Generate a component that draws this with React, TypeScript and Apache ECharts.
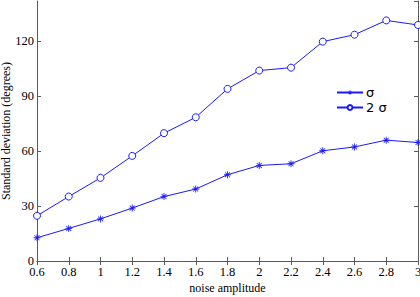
import React, { useEffect, useRef } from "react";
import * as echarts from "echarts";

const noiseAmplitude = [0.6, 0.8, 1.0, 1.2, 1.4, 1.6, 1.8, 2.0, 2.2, 2.4, 2.6, 2.8, 3.0];
const sigma = [12.7, 17.8, 23.0, 28.9, 35.2, 39.3, 47.1, 52.2, 53.1, 60.2, 62.3, 66.0, 64.7];
const twoSigma = [24.7, 35.2, 45.4, 57.4, 69.8, 78.5, 94.0, 104.0, 105.6, 119.8, 123.6, 131.4, 128.9];
const seriesNames = ["σ", "2 σ"];

const asterisk =
  "path://M0 4.4H10V5.6H0Z M4.4 0H5.6V10H4.4Z M1.1 1.9L1.9 1.1L8.9 8.1L8.1 8.9Z M8.1 1.1L8.9 1.9L1.9 8.9L1.1 8.1Z";

export default function App() {
  const ref = useRef<HTMLDivElement>(null);
  useEffect(() => {
    if (!ref.current) return;
    const chart = echarts.init(ref.current, undefined, { renderer: "svg" });
    const font = "'Times New Roman', 'Liberation Serif', 'DejaVu Serif', serif";
    const axisColor = "#5a5a5a";
    const blue = "#1a1aff";
    const baseX = {
      type: "value" as const,
      min: 0.6,
      max: 3,
      interval: 0.2,
      splitLine: { show: false },
      axisLine: { lineStyle: { color: axisColor, width: 1 } },
      axisTick: { inside: true, length: 4, lineStyle: { color: axisColor } },
    };
    const baseY = {
      type: "value" as const,
      min: 0,
      max: 142,
      interval: 30,
      splitLine: { show: false },
      axisLine: { lineStyle: { color: axisColor, width: 1 } },
      axisTick: { inside: true, length: 4, lineStyle: { color: axisColor } },
    };
    chart.setOption({
      animation: false,
      textStyle: { fontFamily: font },
      grid: { left: 37, right: 2, top: 1, bottom: 36, containLabel: false, outerBoundsMode: "none" },
      legend: {
        orient: "vertical",
        left: 331,
        top: 81,
        itemWidth: 26,
        itemHeight: 6,
        itemGap: 2,
        data: seriesNames,
        textStyle: { fontFamily: "'DejaVu Sans', sans-serif", fontSize: 13, color: "#000", padding: [0, 0, 0, -2] },
      },
      xAxis: [
        {
          ...baseX,
          position: "bottom",
          name: "noise amplitude",
          nameLocation: "middle",
          nameGap: 21,
          nameMoveOverlap: false,
          nameTextStyle: { fontFamily: font, fontSize: 12, color: "#000" },
          axisLabel: {
            fontFamily: font,
            fontSize: 12.5,
            lineHeight: 12,
            color: "#000",
            margin: 5,
            formatter: (v: number) => String(Math.round(v * 10) / 10),
          },
        },
        { ...baseX, position: "top", axisLabel: { show: false } },
      ],
      yAxis: [
        {
          ...baseY,
          position: "left",
          name: "Standard deviation (degrees)",
          nameLocation: "middle",
          nameGap: 25,
          nameMoveOverlap: false,
          nameTextStyle: { fontFamily: font, fontSize: 12, color: "#000" },
          axisLabel: {
            fontFamily: font,
            fontSize: 12.5,
            lineHeight: 12,
            color: "#000",
            margin: 3,
            showMaxLabel: false,
          },
        },
        { ...baseY, position: "right", axisLabel: { show: false } },
      ],
      series: [
        {
          name: seriesNames[0],
          type: "line",
          data: noiseAmplitude.map((x, i) => [x, sigma[i]]),
          symbol: asterisk,
          symbolSize: 7,
          itemStyle: { color: blue },
          lineStyle: { color: blue, width: 1 },
        },
        {
          name: seriesNames[1],
          type: "line",
          data: noiseAmplitude.map((x, i) => [x, twoSigma[i]]),
          symbol: "circle",
          symbolSize: 7,
          itemStyle: { color: "#fff", borderColor: blue, borderWidth: 1 },
          lineStyle: { color: blue, width: 1 },
        },
      ],
    });
    return () => chart.dispose();
  }, []);
  return (
    <div
      ref={ref}
      style={{ position: "fixed", left: 0, top: 0, width: 420, height: 297, background: "#fff" }}
    />
  );
}
